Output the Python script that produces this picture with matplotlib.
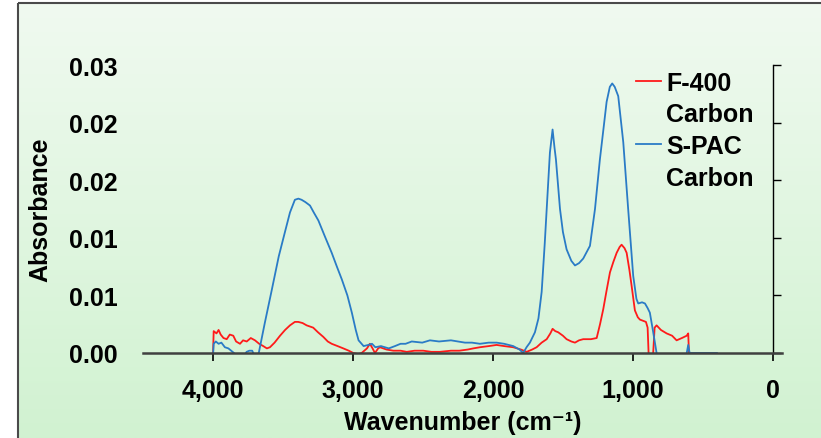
import numpy as np
import matplotlib
matplotlib.use("Agg")
import matplotlib.pyplot as plt
from matplotlib.lines import Line2D

plt.rcParams['font.family'] = ['Liberation Sans', 'DejaVu Sans']
plt.rcParams['font.weight'] = 'bold'

# ---- data ----
spac_wn = [4000, 3995, 3980, 3960, 3940, 3915, 3890, 3870, 3850, 3820, 3780, 3760, 3740,
           3720, 3705, 3680, 3673, 3630, 3583, 3530, 3486, 3450, 3415, 3390, 3367, 3340,
           3307, 3280, 3247, 3200, 3152, 3115, 3080, 3040, 3008, 2980, 2960, 2924, 2890,
           2864, 2840, 2800, 2744, 2700, 2660, 2624, 2580, 2505, 2450, 2385, 2300, 2250,
           2200, 2150, 2093, 2030, 1974, 1920, 1855, 1810, 1784, 1760, 1736, 1700, 1675,
           1652, 1630, 1616, 1593, 1574, 1560, 1550, 1521, 1500, 1474, 1440, 1414, 1385,
           1355, 1307, 1271, 1236, 1210, 1188, 1165, 1148, 1130, 1105, 1069, 1034, 998,
           975, 962, 935, 914, 895, 879, 855, 831, 810, 700, 620, 605, 595, 400]
spac_abs = [-0.0003, 0.0008, 0.0010, 0.0008, 0.0009, 0.0005, 0.0004, 0.0002, 0.0000,
            -0.0004, -0.0003, 0.0001, 0.0002, 0.0002, -0.0002, -0.0003, 0.0000, 0.0026,
            0.0053, 0.0084, 0.0105, 0.0122, 0.0133, 0.0134, 0.0133, 0.0131, 0.0128, 0.0122,
            0.0115, 0.0101, 0.0087, 0.0075, 0.0064, 0.0050, 0.0035, 0.0020, 0.0011, 0.0006,
            0.0007, 0.0008, 0.0005, 0.0006, 0.0004, 0.0006, 0.0008, 0.0008, 0.0010, 0.0009,
            0.0011, 0.0010, 0.0011, 0.0010, 0.0009, 0.0009, 0.0008, 0.0009, 0.0009, 0.0008,
            0.0006, 0.0003, 0.0000, 0.0005, 0.0009, 0.0018, 0.0030, 0.0053, 0.0095, 0.0125,
            0.0174, 0.0194, 0.0178, 0.0168, 0.0125, 0.0105, 0.0090, 0.0080, 0.0076, 0.0078,
            0.0082, 0.0093, 0.0125, 0.0168, 0.0195, 0.0218, 0.0231, 0.0234, 0.0231, 0.0223,
            0.0183, 0.0125, 0.0067, 0.0047, 0.0043, 0.0044, 0.0043, 0.0039, 0.0035, 0.0018,
            0.0000, -0.0015, -0.0015, -0.0003, 0.0007, 0.0000, 0.0000]

f400_wn = [4000, 3995, 3975, 3960, 3945, 3925, 3902, 3880, 3855, 3835, 3807, 3785, 3759,
           3730, 3700, 3670, 3641, 3615, 3593, 3560, 3521, 3485, 3450, 3415, 3391, 3360,
           3331, 3284, 3250, 3212, 3180, 3152, 3110, 3069, 3030, 2998, 2960, 2938, 2900,
           2879, 2860, 2843, 2820, 2807, 2760, 2712, 2660, 2616, 2560, 2498, 2440, 2379,
           2300, 2240, 2180, 2140, 2093, 2030, 1974, 1920, 1855, 1800, 1759, 1720, 1688,
           1652, 1616, 1590, 1574, 1555, 1534, 1500, 1474, 1440, 1414, 1385, 1355, 1300,
           1259, 1235, 1212, 1190, 1164, 1140, 1116, 1095, 1081, 1060, 1045, 1025, 1009,
           986, 965, 950, 907, 895, 885, 860, 845, 831, 800, 759, 720, 688, 650, 616, 605,
           598]
f400_abs = [-0.0002, 0.0019, 0.0017, 0.0020, 0.0016, 0.0013, 0.0012, 0.0016, 0.0015,
            0.0010, 0.0008, 0.0011, 0.0010, 0.0013, 0.0011, 0.0008, 0.0006, 0.0004, 0.0005,
            0.0009, 0.0015, 0.0020, 0.0024, 0.0027, 0.0027, 0.0026, 0.0024, 0.0022, 0.0018,
            0.0014, 0.0010, 0.0008, 0.0006, 0.0004, 0.0002, 0.0000, -0.0001, 0.0000, 0.0004,
            0.0008, 0.0004, 0.0000, 0.0004, 0.0005, 0.0003, 0.0002, 0.0002, 0.0001, 0.0002,
            0.0002, 0.0001, 0.0001, 0.0002, 0.0002, 0.0003, 0.0004, 0.0005, 0.0006, 0.0007,
            0.0006, 0.0005, 0.0003, 0.0001, 0.0003, 0.0005, 0.0009, 0.0012, 0.0017, 0.0021,
            0.0019, 0.0018, 0.0015, 0.0012, 0.0010, 0.0009, 0.0011, 0.0012, 0.0012, 0.0013,
            0.0025, 0.0038, 0.0053, 0.0070, 0.0079, 0.0087, 0.0092, 0.0094, 0.0091, 0.0087,
            0.0072, 0.0058, 0.0037, 0.0031, 0.0029, 0.0027, 0.0022, -0.0010, -0.0010, 0.0022,
            0.0024, 0.0020, 0.0017, 0.0015, 0.0011, 0.0013, 0.0015, 0.0017, -0.0005]

series_names = ["F-400", "Carbon", "S-PAC", "Carbon"]
x_ticks = [4000, 3000, 2000, 1000, 0]
x_tick_labels = ["4,000", "3,000", "2,000", "1,000", "0"]
y_ticks = [0.0, 0.005, 0.010, 0.015, 0.020, 0.025]
y_tick_labels = ["0.00", "0.01", "0.01", "0.02", "0.02", "0.03"]

W, H = 821, 439
fig = plt.figure(figsize=(W / 100, H / 100), dpi=100)

# background: framed chart area with a pale green vertical gradient
bg = fig.add_axes([0, 0, 1, 1], zorder=0)
bg.set_xlim(0, W)
bg.set_ylim(H, 0)
bg.axis('off')
top_c = np.array([240, 250, 240]) / 255
bot_c = np.array([209, 242, 209]) / 255
t = np.linspace(0, 1, 256)[:, None, None]
grad = top_c * (1 - t) + bot_c * t
bg.imshow(grad, extent=(18, W, H, 4), aspect='auto', origin='upper')
bg.plot([18, 18], [H, 4], color='#4a4a4a', lw=1.5, solid_capstyle='butt')
bg.plot([18, W], [4, 4], color='#4a4a4a', lw=1.5, solid_capstyle='butt')

ax = fig.add_axes([143 / W, 1 - 354 / H, (782 - 143) / W, (354 - 66) / H], zorder=1)
ax.set_facecolor('none')

red_line, = ax.plot(f400_wn, f400_abs, color='#FF1A1A', lw=1.3)
blue_line, = ax.plot(spac_wn, spac_abs, color='#2A7BC6', lw=1.3)

ax.set_xlim(4500, -65)
ax.set_ylim(0, 0.025)

ax.spines['top'].set_visible(False)
ax.spines['left'].set_visible(False)
ax.spines['right'].set_position(('data', 0))
ax.spines['right'].set_color('black')
ax.spines['right'].set_linewidth(1.0)
ax.spines['bottom'].set_color('#404040')
ax.spines['bottom'].set_linewidth(1.8)

ax.set_xticks(x_ticks)
ax.set_xticklabels(x_tick_labels, fontsize=18, fontweight='bold')
ax.set_yticks(y_ticks)
ax.set_yticklabels(y_tick_labels, fontsize=18, fontweight='bold')
ax.tick_params(axis='x', direction='out', length=6, width=1.2, color='black', pad=12)
ax.tick_params(axis='y', direction='out', length=6, width=1.0, color='black',
               left=False, right=True, labelleft=True, labelright=False, pad=12)

ax.set_xlabel("Wavenumber (cm\u207b\u00b9)", fontsize=18, fontweight='bold', labelpad=6)
ax.set_ylabel("Absorbance", fontsize=18, fontweight='bold', labelpad=12)

blank = Line2D([], [], color='none')
leg = ax.legend([red_line, blank, blue_line, blank], series_names,
                loc='upper left', bbox_to_anchor=(636 / W, 1 - 72 / H),
                bbox_transform=fig.transFigure, frameon=False,
                prop={'size': 18, 'weight': 'bold'}, handlelength=1.0,
                handletextpad=0.2, labelspacing=0.30, borderpad=0, borderaxespad=0)

fig.savefig("out.png", dpi=100)
